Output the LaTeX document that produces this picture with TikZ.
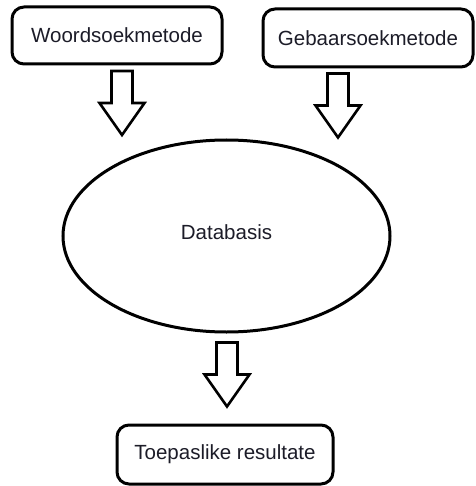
\documentclass[tikz,border=0pt]{standalone}
\usepackage{fontspec}
\setmainfont{Liberation Sans}
\usetikzlibrary{shapes.geometric}
\definecolor{txt}{RGB}{28,28,40}
\tikzset{
  box/.style={draw=black, line width=3pt, rounded corners=12pt, fill=white,
    text=txt, font=\fontsize{20.5}{24}\selectfont, inner sep=0pt},
  dbase/.style={draw=black, line width=3pt, ellipse, fill=white,
    text=txt, font=\fontsize{20.5}{24}\selectfont, inner sep=0pt},
  arrowline/.style={draw=black, line width=2.6pt, fill=white, line join=miter},
  blockdown/.pic={
    \path[arrowline] (-10.5,0) -- (10.5,0) -- (10.5,32) -- (22.5,32) -- (0,64)
      -- (-22.5,32) -- (-10.5,32) -- cycle;
  }
}
\begin{document}
\begin{tikzpicture}[x=1pt,y=-1pt]
\useasboundingbox (0,0) rectangle (475,486);
\node[box, minimum width=210pt, minimum height=57pt] (w) at (117,35.5) {Woordsoekmetode};
\node[box, minimum width=210pt, minimum height=58pt] (g) at (368,38) {Gebaarsoekmetode};
\node[dbase, minimum width=327pt, minimum height=192pt] (d) at (226.5,236) {\raisebox{8pt}{Databasis}};
\node[box, minimum width=216pt, minimum height=59pt] (t) at (225,454.5) {Toepaslike resultate};
\pic at (122,71) {blockdown};
\pic at (338,73.5) {blockdown};
\pic at (227,342.5) {blockdown};
\end{tikzpicture}
\end{document}
